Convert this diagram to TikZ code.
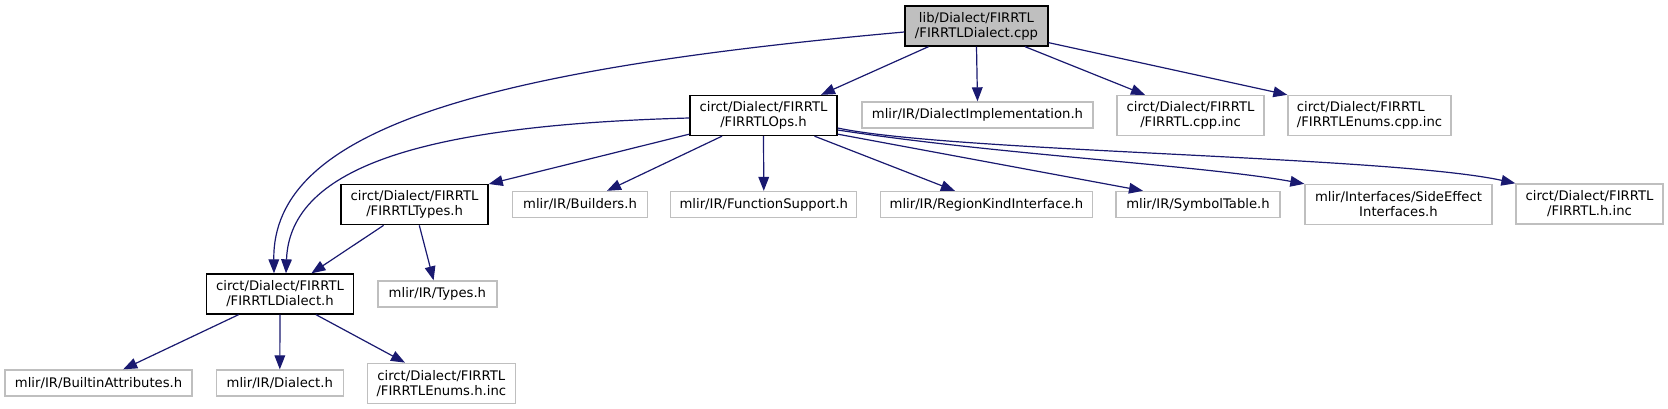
\documentclass[tikz,border=0pt]{standalone}
\usepackage{fontspec}
\setmainfont{DejaVu Sans}
\usetikzlibrary{arrows.meta,calc}
\definecolor{edgeblue}{HTML}{191970}
\definecolor{lgray}{HTML}{BFBFBF}
\begin{document}
\begin{tikzpicture}[x=0.75pt,y=-0.75pt,
  every node/.style={font=\fontsize{9.9}{11.25}\selectfont, inner sep=0pt, align=center, line width=1pt},
  focus/.style={draw=black, fill=lgray},
  docbox/.style={draw=black, fill=white},
  extbox/.style={draw=lgray, fill=white},
  two/.style={minimum height=30pt},
  one/.style={minimum height=19.5pt},
  e/.style={draw=edgeblue, line width=0.9pt, -{Triangle[length=10.5pt,width=8pt]}}]
\useasboundingbox[fill=white] (0,0) rectangle (1668,409);

% nodes
\node[focus,two,minimum width=107.25pt] (cpp) at (976.5,26) {lib/Dialect/FIRRTL\\/FIRRTLDialect.cpp};
\node[docbox,two,minimum width=110.25pt] (ops) at (763.5,115.5) {circt/Dialect/FIRRTL\\/FIRRTLOps.h};
\node[extbox,one,minimum width=173.25pt] (dimpl) at (977.5,115) {mlir/IR/DialectImplementation.h};
\node[extbox,two,minimum width=110.25pt] (cppinc) at (1190.5,115.5) {circt/Dialect/FIRRTL\\/FIRRTL.cpp.inc};
\node[extbox,two,minimum width=122.25pt,align=left] (enumscpp) at (1369.5,115.5) {circt/Dialect/FIRRTL\\/FIRRTLEnums.cpp.inc};

\node[docbox,two,minimum width=110.25pt] (types) at (414.6,204.7) {circt/Dialect/FIRRTL\\/FIRRTLTypes.h};
\node[extbox,one,minimum width=101.25pt] (builders) at (580,204.5) {mlir/IR/Builders.h};
\node[extbox,one,minimum width=139.5pt] (funcsup) at (763.8,204.5) {mlir/IR/FunctionSupport.h};
\node[extbox,one,minimum width=159pt] (region) at (986.4,204.5) {mlir/IR/RegionKindInterface.h};
\node[extbox,one,minimum width=123pt] (symtab) at (1198,204.5) {mlir/IR/SymbolTable.h};
\node[extbox,two,minimum width=140.25pt] (sideeff) at (1398.5,204.5) {mlir/Interfaces/SideEffect\\Interfaces.h};
\node[extbox,two,minimum width=110.25pt] (hinc) at (1589.5,204) {circt/Dialect/FIRRTL\\/FIRRTL.h.inc};

\node[docbox,two,minimum width=110.25pt] (dialecth) at (280,294) {circt/Dialect/FIRRTL\\/FIRRTLDialect.h};
\node[extbox,one,minimum width=89.25pt] (mtypes) at (437.4,294) {mlir/IR/Types.h};

\node[extbox,one,minimum width=140.25pt] (builtin) at (98.6,383) {mlir/IR/BuiltinAttributes.h};
\node[extbox,one,minimum width=95.25pt] (mdialect) at (279.8,383) {mlir/IR/Dialect.h};
\node[extbox,two,minimum width=111pt] (enumsh) at (441.3,383.3) {circt/Dialect/FIRRTL\\/FIRRTLEnums.h.inc};

% edges from cpp
\draw[e] ($(cpp.west)+(0,6)$) .. controls (480,70) and (272,130) .. ($(dialecth.north)+(-6,0)$);
\draw[e] ($(cpp.south)+(-48,0)$) -- ($(ops.north)+(57.5,0)$);
\draw[e] (cpp.south) -- (dimpl.north);
\draw[e] ($(cpp.south)+(48.5,0)$) -- ($(cppinc.north)+(-45.5,0)$);
\draw[e] ($(cpp.south east)+(0,-4)$) -- (enumscpp.north west);

% edges from ops
\draw[e] ($(ops.west)+(0,2.5)$) .. controls (430,125) and (290,165) .. ($(dialecth.north)+(6,0)$);
\draw[e] ($(ops.south west)+(0,-2)$) -- (types.north east);
\draw[e] ($(ops.south)+(-41.5,0)$) -- ($(builders.north)+(27,0)$);
\draw[e] (ops.south) -- (funcsup.north);
\draw[e] ($(ops.south)+(51,0)$) -- ($(region.north)+(-31.5,0)$);
\draw[e] ($(ops.south east)+(0,-2)$) -- ($(symtab.north)+(-55,0)$);
\draw[e] ($(ops.east)+(0,14.5)$) .. controls (1000,155) and (1200,165) .. (sideeff.north west);
\draw[e] ($(ops.east)+(0,12.5)$) .. controls (950,152) and (1390,156) .. (hinc.north west);

% edges from types
\draw[e] ($(types.south)+(-31,0)$) -- ($(dialecth.north)+(31.4,0)$);
\draw[e] ($(types.south)+(4.7,0)$) -- ($(mtypes.north)+(-3.8,0)$);

% edges from dialecth
\draw[e] ($(dialecth.south)+(-41.4,0)$) -- ($(builtin.north)+(24.6,0)$);
\draw[e] (dialecth.south) -- (mdialect.north);
\draw[e] ($(dialecth.south)+(36,0)$) -- ($(enumsh.north)+(-36.3,0)$);
\end{tikzpicture}
\end{document}
